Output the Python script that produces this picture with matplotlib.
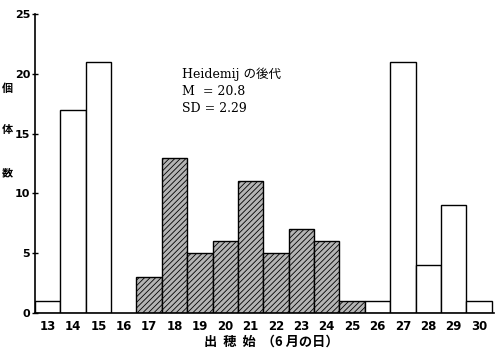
import matplotlib
matplotlib.use("Agg")
import matplotlib.pyplot as plt
import matplotlib as mpl

days = [13, 14, 15, 16, 17, 18, 19, 20, 21, 22, 23, 24, 25, 26, 27, 28, 29, 30]
counts = [1, 17, 21, 0, 3, 13, 5, 6, 11, 5, 7, 6, 1, 1, 21, 4, 9, 1]
hatched_days = [17, 18, 19, 20, 21, 22, 23, 24, 25]
y_ticks = [0, 5, 10, 15, 20, 25]
ylabel_chars = ["個", "体", "数"]
xlabel = "出  穂  始  （6 月の日）"
note = "Heidemij の後代\nM  = 20.8\nSD = 2.29"

mpl.rcParams['hatch.linewidth'] = 0.6
mpl.rcParams['hatch.color'] = '#333333'

fig = plt.figure(figsize=(5.03, 3.52), dpi=100)
ax = fig.add_axes([0.0696, 0.111, 0.913, 0.849])

for d, c in zip(days, counts):
    if c == 0:
        continue
    if d in hatched_days:
        ax.bar(d, c, width=1.0, facecolor='#b4b4b4', edgecolor='black',
               linewidth=1.0, hatch='//////')
    else:
        ax.bar(d, c, width=1.0, facecolor='white', edgecolor='black', linewidth=1.0)

ax.set_xlim(12.5, 30.6)
ax.set_ylim(0, 25)
ax.set_xticks(days)
ax.set_xticklabels([str(d) for d in days], fontsize=8.5, fontweight='bold',
                   family='DejaVu Sans')
ax.tick_params(axis='x', length=0, pad=5)
ax.set_yticks(y_ticks)
ax.set_yticklabels([str(v) for v in y_ticks], fontsize=8, fontweight='bold',
                   family='DejaVu Sans')
ax.tick_params(axis='y', direction='inout', length=5, width=1, pad=1)
ax.spines['top'].set_visible(False)
ax.spines['right'].set_visible(False)
ax.spines['left'].set_linewidth(1.2)
ax.spines['bottom'].set_linewidth(1.2)

for ch, yf in zip(ylabel_chars, [0.75, 0.631, 0.509]):
    fig.text(0.014, yf, ch, fontsize=8, family=['Noto Sans CJK JP'],
             ha='center', va='center', fontweight='bold')

fig.text(0.54, 0.028, xlabel, fontsize=9.5, family=['Noto Sans CJK JP', 'DejaVu Sans'],
         ha='center', va='center', fontweight='bold')

ax.text(0.32, 0.82, note, transform=ax.transAxes, fontsize=9,
        family=['DejaVu Serif', 'Noto Sans CJK JP'], ha='left', va='top',
        linespacing=1.4)

fig.savefig("out.png", dpi=100)
